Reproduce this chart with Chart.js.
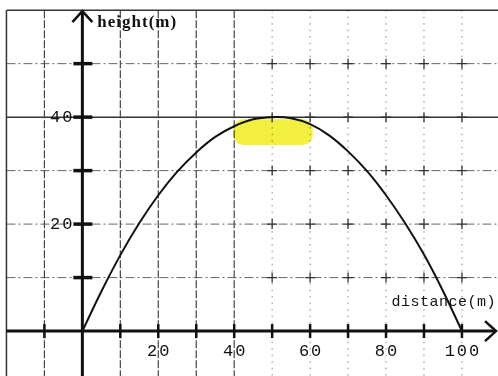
<!DOCTYPE html>
<html>
<head>
<meta charset="utf-8">
<script src="https://cdn.jsdelivr.net/npm/chart.js@4"></script>
<style>
  html, body { margin: 0; padding: 0; background: #fff; }
  #wrap { width: 498px; height: 376px; }
</style>
</head>
<body>
<div id="wrap"><canvas id="graph" width="498" height="376"></canvas></div>
<script>
// distance (m) and height (m)
let distance = [0, 5, 10, 15, 20, 25, 30, 35, 40, 45, 50, 55, 60, 65, 70, 75, 80, 85, 90, 95, 100];
let height = [0, 7.4, 14.2, 20.2, 25.4, 29.8, 33.4, 36.3, 38.3, 39.6, 40, 39.8, 38.7, 36.6, 33.6, 29.9, 25.4, 20.2, 14.3, 7.5, 0];

// graph paper lines and labels
let xGrid = [-20, -10, 10, 20, 30, 40, 50, 60, 70, 80, 90, 100];
let yGrid = [10, 20, 30, 40, 50];
let xTickLabels = [20, 40, 60, 80, 100];
let yTickLabels = [20, 40];

let ctx1 = document.getElementById('graph').getContext('2d');

let paper = {
    id: 'paper',
    beforeDatasetsDraw(chart) {
        let c = chart.ctx;
        let xs = chart.scales.x, ys = chart.scales.y;
        let X = v => xs.getPixelForValue(v);
        let Y = v => ys.getPixelForValue(v);
        let area = chart.chartArea;
        let x0 = X(0), y0 = Y(0);
        let left = X(-20), top = Y(60);

        c.save();
        // horizontal lines
        yGrid.forEach(v => {
            c.beginPath();
            if (v === 40) {
                c.setLineDash([]);
                c.strokeStyle = '#333';
                c.lineWidth = 1.5;
            } else {
                c.setLineDash([9, 3, 2, 3]);
                c.strokeStyle = '#666';
                c.lineWidth = 1;
            }
            c.moveTo(left, Y(v));
            c.lineTo(area.right, Y(v));
            c.stroke();
        });
        // vertical lines
        xGrid.forEach(v => {
            c.beginPath();
            if (v === -20) {
                c.setLineDash([]);
                c.strokeStyle = '#333';
                c.lineWidth = 1.5;
            } else if (v < 50) {
                c.setLineDash([8, 2]);
                c.strokeStyle = '#444';
                c.lineWidth = 1.2;
            } else {
                c.setLineDash([1.5, 5]);
                c.strokeStyle = '#888';
                c.lineWidth = 1;
            }
            c.moveTo(X(v), top);
            c.lineTo(X(v), area.bottom);
            c.stroke();
        });
        // top border
        c.setLineDash([]);
        c.strokeStyle = '#333';
        c.lineWidth = 1.5;
        c.beginPath();
        c.moveTo(left, top);
        c.lineTo(area.right, top);
        c.stroke();

        // little crosses on the right half
        c.strokeStyle = '#333';
        c.lineWidth = 1.3;
        xGrid.filter(v => v >= 50).forEach(vx => {
            yGrid.forEach(vy => {
                c.beginPath();
                c.moveTo(X(vx) - 5, Y(vy));
                c.lineTo(X(vx) + 5, Y(vy));
                c.moveTo(X(vx), Y(vy) - 5);
                c.lineTo(X(vx), Y(vy) + 5);
                c.stroke();
            });
        });

        // highlighter mark near the top of the curve
        let hx1 = X(39.8), hx2 = X(60.7), hy1 = Y(39.6), hy2 = Y(34.8);
        c.globalCompositeOperation = 'multiply';
        c.fillStyle = '#f3ef3e';
        c.beginPath();
        c.roundRect(hx1, hy1, hx2 - hx1, hy2 - hy1, 10);
        c.fill();
        c.globalCompositeOperation = 'source-over';

        // axes
        c.strokeStyle = '#111';
        c.lineWidth = 3;
        c.beginPath();
        c.moveTo(left, y0);
        c.lineTo(area.right - 2, y0);
        c.moveTo(x0, area.bottom);
        c.lineTo(x0, top + 1);
        c.stroke();
        // arrow heads
        c.lineWidth = 2.5;
        c.beginPath();
        c.moveTo(area.right - 13, y0 - 10);
        c.lineTo(area.right - 2, y0);
        c.lineTo(area.right - 13, y0 + 10);
        c.moveTo(x0 - 10, top + 12);
        c.lineTo(x0, top + 1);
        c.lineTo(x0 + 10, top + 12);
        c.stroke();

        // ticks on the y axis
        c.lineWidth = 3.5;
        yGrid.forEach(v => {
            c.beginPath();
            c.moveTo(x0 - 9, Y(v));
            c.lineTo(x0 + 10, Y(v));
            c.stroke();
        });
        // ticks on the x axis
        c.lineWidth = 2.5;
        xGrid.filter(v => v > -20).forEach(v => {
            c.beginPath();
            c.moveTo(X(v), y0 - 7);
            c.lineTo(X(v), y0 + 7);
            c.stroke();
        });

        // labels
        c.fillStyle = '#111';
        c.font = '17px "Liberation Mono"';
        c.letterSpacing = '2px';
        c.textBaseline = 'middle';
        c.textAlign = 'center';
        xTickLabels.forEach(v => c.fillText(String(v), X(v) + 1, y0 + 20));
        c.textAlign = 'right';
        yTickLabels.forEach(v => c.fillText(String(v), x0 - 8, Y(v)));

        c.letterSpacing = '0.5px';
        c.font = '15px "Liberation Mono"';
        c.textAlign = 'right';
        c.fillText('distance(m)', area.right - 2, y0 - 29);

        c.letterSpacing = '1px';
        c.font = 'bold 17px "Liberation Serif"';
        c.textAlign = 'left';
        c.fillText('height(m)', x0 + 15, top + 12);
        c.restore();
    }
};

let chart1 = new Chart(ctx1, {
    type: 'line',
    data: {
        labels: distance,
        datasets: [{
            label: 'height(m)',
            data: distance.map((d, i) => ({ x: d, y: height[i] })),
            borderColor: '#111',
            borderWidth: 2,
            pointRadius: 0,
            tension: 0.4,
            fill: false,
        }],
    },
    options: {
        responsive: false,
        animation: false,
        layout: { padding: 0 },
        plugins: {
            legend: { display: false },
            tooltip: { enabled: false },
            title: { display: false },
        },
        scales: {
            x: { type: 'linear', display: false, min: -21.7, max: 109.5 },
            y: { type: 'linear', display: false, min: -8.4, max: 61.9 },
        },
    },
    plugins: [paper],
});
</script>
</body>
</html>
